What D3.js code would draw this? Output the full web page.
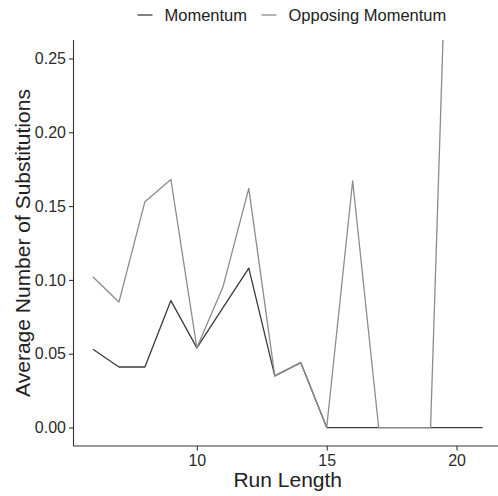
<!DOCTYPE html>
<html>
<head>
<meta charset="utf-8">
<script src="https://cdn.jsdelivr.net/npm/d3@7"></script>
<style>
  body { margin: 0; background: #fff; }
  text { font-family: "Liberation Sans", Arial, sans-serif; }
</style>
</head>
<body>
<div id="canvas"></div>
<script>
// run lengths and the two series
const runLength = [6, 7, 8, 9, 10, 11, 12, 13, 14, 15, 16, 17, 18, 19, 20, 21];
const momentum = [0.053, 0.041, 0.041, 0.086, 0.054, 0.081, 0.108, 0.035, 0.044, 0, 0, 0, 0, 0, 0, 0];
const opposing = [0.102, 0.085, 0.153, 0.168, 0.054, 0.095, 0.162, 0.035, 0.044, 0, 0.167, 0, 0, 0, 0.55];
const xTicks = [10, 15, 20];
const yTicks = [0, 0.05, 0.1, 0.15, 0.2, 0.25];
const seriesNames = ["Momentum", "Opposing Momentum"];

const width = 498, height = 496;
const panel = { left: 73.5, right: 502, top: 40, bottom: 446 };

const svg = d3.select("#canvas").append("svg")
  .attr("width", width).attr("height", height);

// ggplot style 5% expansion on x, ylim 0..0.25 with expansion
const x = d3.scaleLinear().domain([5.25, 21.75]).range([panel.left, panel.right]);
const y = d3.scaleLinear().domain([-0.0125, 0.2625]).range([panel.bottom, panel.top]);

const color = d3.scaleOrdinal().domain(seriesNames).range(["#3b3b3b", "#8c8c8c"]);

svg.append("clipPath").attr("id", "clip")
  .append("rect")
  .attr("x", panel.left).attr("y", panel.top)
  .attr("width", panel.right - panel.left).attr("height", panel.bottom - panel.top);

const line = d3.line().x(d => x(d[0])).y(d => y(d[1]));

const series = [
  { name: seriesNames[0], pts: momentum.map((v, i) => [runLength[i], v]) },
  { name: seriesNames[1], pts: opposing.map((v, i) => [runLength[i], v]) }
];

svg.append("g").attr("clip-path", "url(#clip)")
  .selectAll("path")
  .data(series)
  .enter()
  .append("path")
  .attr("fill", "none")
  .attr("stroke", d => color(d.name))
  .attr("stroke-width", 1.3)
  .attr("stroke-linejoin", "round")
  .attr("d", d => line(d.pts));

// axes
const xAxis = svg.append("g")
  .attr("transform", "translate(0," + panel.bottom + ")")
  .call(d3.axisBottom(x).tickValues(xTicks).tickSize(4.5).tickPadding(4).tickFormat(d3.format("d")));
const yAxis = svg.append("g")
  .attr("transform", "translate(" + panel.left + ",0)")
  .call(d3.axisLeft(y).tickValues(yTicks).tickSize(4.5).tickPadding(3).tickFormat(d3.format(".2f")));

[xAxis, yAxis].forEach(a => {
  a.select(".domain").attr("stroke", "#333").attr("stroke-width", 1.1);
  a.selectAll(".tick line").attr("stroke", "#333").attr("stroke-width", 1.1);
  a.selectAll(".tick text")
    .attr("fill", "#2b2b2b")
    .style("font-size", "16px")
    .style("font-family", "'Liberation Sans', Arial, sans-serif");
});
xAxis.select(".domain").attr("d", "M" + panel.left + ",0H" + panel.right);
yAxis.select(".domain").attr("d", "M0," + panel.bottom + "V" + panel.top);

// titles
svg.append("text")
  .attr("x", (panel.left + panel.right) / 2).attr("y", 487)
  .attr("text-anchor", "middle")
  .attr("fill", "#222")
  .style("font-size", "21px")
  .text("Run Length");

svg.append("text")
  .attr("transform", "translate(30," + (panel.top + panel.bottom) / 2 + ") rotate(-90)")
  .attr("text-anchor", "middle")
  .attr("fill", "#222")
  .style("font-size", "21px")
  .text("Average Number of Substitutions");

// legend
const legendPos = [137.5, 261.5];
const legend = svg.append("g")
  .selectAll("g")
  .data(seriesNames)
  .enter()
  .append("g")
  .attr("transform", (d, i) => "translate(" + legendPos[i] + ",0)");
legend.append("line")
  .attr("x1", 0).attr("x2", 15).attr("y1", 15).attr("y2", 15)
  .attr("stroke", d => color(d)).attr("stroke-width", 1.3);
legend.append("text")
  .attr("x", 27).attr("y", 20.5)
  .attr("fill", "#222")
  .style("font-size", "16.5px")
  .text(d => d);
</script>
</body>
</html>
